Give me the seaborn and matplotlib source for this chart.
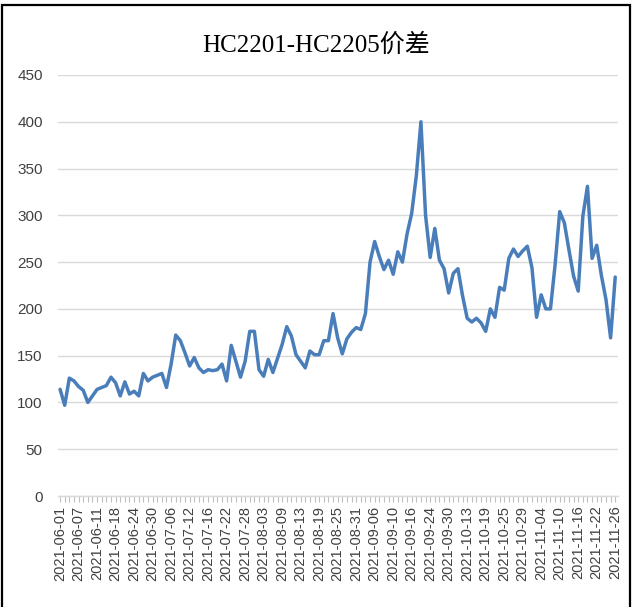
import matplotlib
matplotlib.use("Agg")
import matplotlib.pyplot as plt
import numpy as np
import pandas as pd
import seaborn as sns
from matplotlib.patches import Rectangle

# 交易日（剔除节假日）
festivos = ['2021-06-14', '2021-09-20', '2021-09-21', '2021-10-01',
            '2021-10-04', '2021-10-05', '2021-10-06', '2021-10-07']
dias = pd.bdate_range('2021-06-01', '2021-11-26', freq='C', holidays=festivos)

titulo = "HC2201-HC2205价差"

# 价差
diferencial = [
    114, 97, 126, 123, 117, 113, 100, 107, 114, 116,
    118, 127, 121, 107, 122, 109, 112, 107, 131, 123,
    127, 129, 131, 116, 141, 172, 166, 153, 139, 148,
    137, 132, 135, 134, 135, 141, 123, 161, 144, 127,
    144, 176, 176, 135, 128, 146, 132, 147, 162, 181,
    171, 151, 144, 137, 155, 151, 151, 166, 166, 195,
    169, 152, 168, 175, 180, 178, 195, 250, 272, 256,
    242, 252, 237, 261, 250, 280, 302, 342, 400, 300,
    255, 286, 252, 243, 217, 238, 243, 214, 190, 186,
    190, 185, 176, 200, 191, 223, 220, 254, 264, 256,
    262, 267, 244, 191, 215, 200, 200, 247, 304, 292,
    263, 235, 219, 299, 331, 254, 268, 236, 210, 169,
    234,
]
ticks_y = [0, 50, 100, 150, 200, 250, 300, 350, 400, 450]

df = pd.DataFrame({'fecha': dias[:len(diferencial)], 'valor': diferencial})
df['pos'] = np.arange(len(df))

sns.set_style('white')
plt.rcParams['font.family'] = ['Liberation Sans', 'DejaVu Sans']

fig = plt.figure(figsize=(6.36, 6.07), dpi=100)
ax = fig.add_axes([58 / 636, 1 - 496 / 607, 560 / 636, 421 / 607])

sns.lineplot(data=df, x='pos', y='valor', ax=ax, color='#4A7EBB', linewidth=2.5)

ax.set_xlim(-0.45, len(df) - 1 + 0.6)
ax.set_ylim(0, 450)
ax.set_yticks(ticks_y)
ax.yaxis.grid(True, color='#D9D9D9', linewidth=1)
ax.xaxis.grid(False)
ax.set_xlabel('')
ax.set_ylabel('')

pos_label = df['pos'][::4]
ax.set_xticks(pos_label)
ax.set_xticklabels(df['fecha'][::4].dt.strftime('%Y-%m-%d'), rotation=90, fontsize=10.5, color='#404040')
ax.set_xticks(df['pos'], minor=True)
ax.tick_params(axis='x', which='both', length=4, width=0.8, color='#BFBFBF', direction='out', pad=3, bottom=True)
ax.tick_params(axis='y', length=0, pad=11, labelsize=11, labelcolor='#404040')

for lado in ['left', 'right', 'top']:
    ax.spines[lado].set_visible(False)
ax.spines['bottom'].set_color('#D9D9D9')
ax.spines['bottom'].set_linewidth(1)

fig.text(0.497, 1 - 45 / 607, titulo, ha='center', va='center', fontsize=18,
         family=['Liberation Serif', 'Noto Sans CJK SC'], color='#000000')

# 外框
fig.patches.append(Rectangle((2 / 636, -0.02), 628 / 636, 1 - 5 / 607 + 0.02,
                             transform=fig.transFigure, fill=False,
                             edgecolor='black', linewidth=1.6))

fig.savefig('out.png', dpi=100)
plt.close()
